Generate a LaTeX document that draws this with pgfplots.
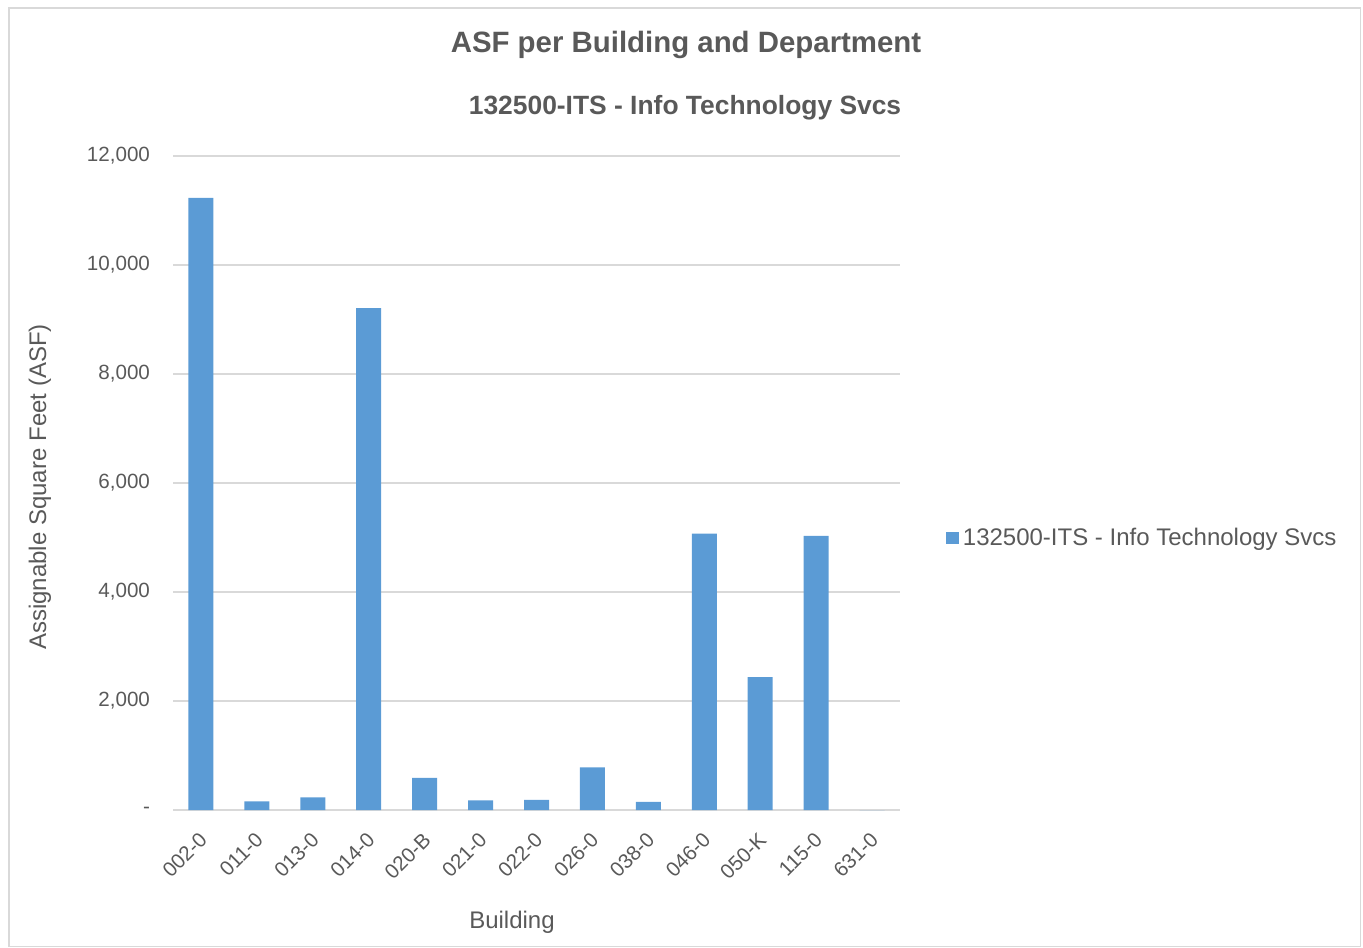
\documentclass[border=0pt]{standalone}
\usepackage{pgfplots}
\pgfplotsset{compat=1.18}
\usepackage{fontspec}
\setmainfont{Liberation Sans}
\definecolor{txt}{HTML}{595959}
\definecolor{grd}{HTML}{D9D9D9}
\definecolor{bar}{HTML}{5B9BD5}
\begin{document}
\begin{tikzpicture}[x=1pt,y=1pt]
\useasboundingbox (0,0) rectangle (681.5,473.5);
\draw[grd,line width=0.6pt] (4.5,0.3) rectangle (680.2,469.5);
\node[font=\bfseries\fontsize{14.7}{17}\selectfont,text=txt] at (343,451) {ASF per Building and Department};
\node[font=\bfseries\fontsize{13.2}{15}\selectfont,text=txt] at (342.5,419.5) {132500-ITS - Info Technology Svcs};
\node[font=\fontsize{12}{14}\selectfont,text=txt] at (256,12.5) {Building};
\node[font=\fontsize{12}{14}\selectfont,text=txt,rotate=90] at (20,230) {Assignable Square Feet (ASF)};
\begin{axis}[
  at={(86.5pt,68.5pt)}, anchor=south west,
  scale only axis, width=363.5pt, height=327pt,
  xmin=-0.5, xmax=12.5, ymin=0, ymax=12000,
  scaled y ticks=false,
  xtick={0,...,12},
  xticklabels={002-0,011-0,013-0,014-0,020-B,021-0,022-0,026-0,038-0,046-0,050-K,115-0,631-0},
  x tick label style={rotate=45, anchor=north east, font=\fontsize{10.3}{12}\selectfont, text=txt, inner sep=1pt, yshift=-5.4pt, xshift=-7.4pt},
  ytick={0,2000,4000,6000,8000,10000,12000},
  yticklabels={-,{2,000},{4,000},{6,000},{8,000},{10,000},{12,000}},
  y tick label style={font=\fontsize{10.3}{12}\selectfont, text=txt, xshift=-8pt},
  ymajorgrids, grid style={grd, line width=0.6pt},
  axis line style={draw=none},
  axis x line*=bottom,
  x axis line style={draw=grd, line width=0.8pt},
  major tick length=0pt,
  legend style={at={(1.055,0.416)}, anchor=west, draw=none, fill=none, font=\fontsize{12}{14}\selectfont, text=txt},
  legend image code/.code={\fill[bar] (0cm,-0.11cm) rectangle (0.22cm,0.11cm);},
]
\addplot[ybar, bar width=12.5pt, fill=bar, draw=none] coordinates {
(0,11230) (1,160) (2,230) (3,9210) (4,590) (5,175) (6,185) (7,780) (8,150) (9,5070) (10,2440) (11,5030) (12,0)
};
\addlegendentry{132500-ITS - Info Technology Svcs}
\end{axis}
\end{tikzpicture}
\end{document}
